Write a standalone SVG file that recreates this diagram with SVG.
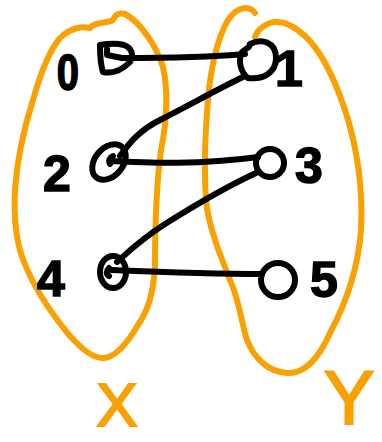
<svg xmlns="http://www.w3.org/2000/svg" width="382" height="442" viewBox="0 0 382 442">
<style>
.ink{fill:none;stroke:#000;stroke-width:6;stroke-linecap:round;stroke-linejoin:round}
.set{fill:none;stroke:#F9A100;stroke-width:6;stroke-linecap:round;stroke-linejoin:round}
.lbl{font-family:"Liberation Sans",Arial,sans-serif;font-weight:bold;font-size:50px;fill:#000;stroke:#000;stroke-width:1.5;text-anchor:middle}
.setlbl{font-family:"Liberation Sans",Arial,sans-serif;font-size:62px;fill:#F9A100;stroke:#F9A100;stroke-width:2;text-anchor:middle}
</style>
<rect width="382" height="442" fill="#fff"/>
<g id="set-X">
<path class="set" d="M90,28 C94,22 105,24 113,20 C115,16 117,12 125,14 C140,22 156,45 163,67 C168,90 167,120 161,150 C157,180 155,230 155,267 C153,295 148,310 138,325 C128,342 115,358 103,358 C92,358 82,349 70,336 C55,318 35,290 24,262 C15,240 14,210 15,190 C17,160 25,125 33,100 C40,75 48,52 60,38 C70,28 82,26 90,28"/>
<text class="setlbl" x="117" y="426">X</text>
</g>
<g id="set-Y">
<path class="set" d="M255,13 C248,4 236,8 228,20 C216,40 210,75 208,100 C205,135 204,170 206,200 C208,225 220,255 232,285 C240,305 242,325 247,340 C254,358 268,372 287,373 C303,374 318,360 330,333 C345,305 358,270 361,230 C363,190 358,150 345,110 C335,80 322,52 305,36 C292,24 280,20 270,23 C262,26 257,31 255,37"/>
<text class="setlbl" x="349" y="424" style="font-size:76px">Y</text>
</g>
<g id="edges">
<path class="ink" d="M122,58 C160,58 200,58 245,54"/>
<path class="ink" d="M243,77 C220,88 195,102 160,120 C140,130 130,142 120,156"/>
<path class="ink" d="M110,161 C150,163 200,165 258,157"/>
<path class="ink" d="M256,173 C230,185 200,202 165,224 C140,240 128,252 117,262"/>
<path class="ink" d="M112,270 C160,272 220,274 262,274"/>
</g>
<g id="node-0">
<path class="ink" d="M100,45 C100,55 100,63 103,72 C112,74 122,70 130,62 C134,55 132,48 124,45 C116,43 106,44 100,45 M107,49 L107,55 L122,58"/>
<text class="lbl" x="68" y="90" transform="translate(68,75) scale(0.8,1) translate(-68,-75)">0</text>
</g>
<g id="node-1">
<path class="ink" d="M250,44 C262,38 276,42 276,58 C276,72 264,80 248,78 C240,72 238,60 242,52 C246,48 250,48 250,44"/>
<text class="lbl" x="289" y="86">1</text>
</g>
<g id="node-2">
<ellipse class="ink" cx="109" cy="162" rx="14" ry="20" transform="rotate(40 109 162)"/>
<path class="ink" d="M113,156 C110,157 108,161 110,164"/>
<text class="lbl" x="57" y="191">2</text>
</g>
<g id="node-3">
<circle class="ink" cx="270" cy="163" r="14"/>
<text class="lbl" x="309" y="183">3</text>
</g>
<g id="node-4">
<ellipse class="ink" cx="113" cy="272" rx="13" ry="16"/>
<path class="ink" d="M109,268 C106,271 106,274 109,276"/>
<text class="lbl" x="51" y="296">4</text>
</g>
<g id="node-5">
<circle class="ink" cx="278" cy="280" r="17"/>
<text class="lbl" x="324" y="297">5</text>
</g>
</svg>
